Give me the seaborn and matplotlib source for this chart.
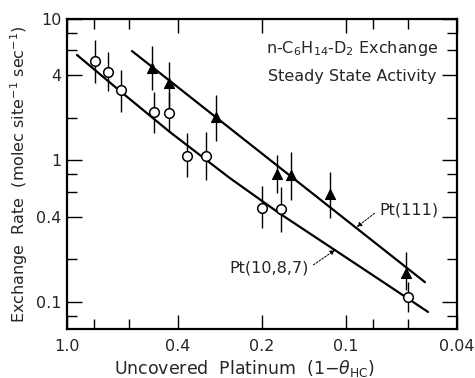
import matplotlib
matplotlib.use("Agg")
import matplotlib.pyplot as plt
import seaborn as sns
import numpy as np
import pandas as pd

# ---- data ----
# Pt(10,8,7) open circles
c_x = [0.794, 0.713, 0.640, 0.488, 0.431, 0.371, 0.318, 0.200, 0.171, 0.060]
c_y = [5.05, 4.22, 3.15, 2.20, 2.17, 1.08, 1.08, 0.461, 0.454, 0.108]
c_lo = [3.53, 3.10, 2.20, 1.56, 1.62, 0.764, 0.728, 0.333, 0.313, 0.085]
c_hi = [7.11, 5.84, 4.36, 3.05, 3.00, 1.56, 1.59, 0.661, 0.650, 0.138]

# Pt(111) filled triangles
t_x = [0.496, 0.431, 0.292, 0.177, 0.157, 0.114, 0.061]
t_y = [4.50, 3.53, 2.03, 0.80, 0.79, 0.58, 0.160]
t_lo = [3.15, 2.35, 1.37, 0.589, 0.526, 0.393, 0.122]
t_hi = [6.45, 4.97, 2.90, 1.09, 1.15, 0.83, 0.225]

# fitted lines
fit111_x = [0.585, 0.0521]
fit111_y = [5.94, 0.138]
fit1087_x = [0.921, 0.646, 0.428, 0.261, 0.172, 0.114, 0.0755, 0.0508]
fit1087_y = [5.57, 3.10, 1.59, 0.752, 0.419, 0.245, 0.143, 0.0850]

x_ticks = [1.0, 0.8, 0.6, 0.4, 0.2, 0.1, 0.08, 0.06, 0.04]
x_labeled = {1.0: "1.0", 0.4: "0.4", 0.2: "0.2", 0.1: "0.1", 0.04: "0.04"}
y_ticks = [10, 8, 6, 4, 2, 1, 0.8, 0.6, 0.4, 0.2, 0.1, 0.08]
y_labeled = {10: "10", 4: "4", 1: "1", 0.4: "0.4", 0.1: "0.1"}

# ---- style ----
sns.set_style("ticks")
plt.rcParams['font.family'] = ['DejaVu Sans']
plt.rcParams['mathtext.fontset'] = 'dejavusans'
FS = 11.5

fig = plt.figure(figsize=(4.75, 3.78), dpi=100)
ax = fig.add_axes([67/475, 49/378, 390/475, 310/378])
ax.set_xscale("log")
ax.set_yscale("log")

df111 = pd.DataFrame({"x": fit111_x, "y": fit111_y})
df1087 = pd.DataFrame({"x": fit1087_x, "y": fit1087_y})
sns.lineplot(data=df111, x="x", y="y", ax=ax, color="black", lw=1.6, sort=False, estimator=None)
sns.lineplot(data=df1087, x="x", y="y", ax=ax, color="black", lw=1.6, sort=False, estimator=None)

cy = np.array(c_y); ty = np.array(t_y)
ax.errorbar(c_x, c_y, yerr=[cy - np.array(c_lo), np.array(c_hi) - cy], fmt="none",
            ecolor="black", elinewidth=1.0, capsize=0, zorder=3)
ax.errorbar(t_x, t_y, yerr=[ty - np.array(t_lo), np.array(t_hi) - ty], fmt="none",
            ecolor="black", elinewidth=1.0, capsize=0, zorder=3)

dc = pd.DataFrame({"x": c_x, "y": c_y})
dt = pd.DataFrame({"x": t_x, "y": t_y})
sns.scatterplot(data=dc, x="x", y="y", ax=ax, marker="o", s=48, facecolor="white",
                edgecolor="black", linewidth=1.1, zorder=5)
sns.scatterplot(data=dt, x="x", y="y", ax=ax, marker="^", s=52, color="black",
                edgecolor="black", linewidth=0.8, zorder=5)

ax.set_xlim(1.0, 0.04)
ax.set_ylim(0.0644, 10)

ax.xaxis.set_minor_locator(matplotlib.ticker.NullLocator())
ax.yaxis.set_minor_locator(matplotlib.ticker.NullLocator())
ax.set_xticks(x_ticks)
ax.set_xticklabels([x_labeled.get(v, "") for v in x_ticks], fontsize=FS)
ax.set_yticks(y_ticks)
ax.set_yticklabels([y_labeled.get(v, "") for v in y_ticks], fontsize=FS)
ax.tick_params(axis="both", which="major", direction="in", length=7, width=1.0,
               top=True, right=True, color="black")
ax.tick_params(axis="x", pad=7)
ax.tick_params(axis="y", pad=4)
for t, v in zip(ax.xaxis.get_major_ticks(), x_ticks):
    if v in x_labeled:
        t.tick1line.set_markersize(10)
        t.tick2line.set_markersize(10)
for t, v in zip(ax.yaxis.get_major_ticks(), y_ticks):
    if v in y_labeled:
        t.tick1line.set_markersize(11)
        t.tick2line.set_markersize(11)

for s in ax.spines.values():
    s.set_linewidth(1.6)
    s.set_color("black")

ax.set_xlabel(r"Uncovered  Platinum  (1$-\theta_{\rm HC}$)", fontsize=12.5)
ax.xaxis.set_label_coords(0.456, -0.095)
ax.set_ylabel(r"Exchange  Rate  (molec site$^{-1}$ sec$^{-1}$)", fontsize=FS, labelpad=4)

ax.text(0.953, 0.905, r"n-C$_6$H$_{14}$-D$_2$ Exchange", transform=ax.transAxes,
        ha="right", va="center", fontsize=FS)
ax.text(0.948, 0.815, "Steady State Activity", transform=ax.transAxes,
        ha="right", va="center", fontsize=FS)

ax.annotate("Pt(111)", xy=(0.0914, 0.339), xytext=(0.0762, 0.447), textcoords="data",
            ha="left", va="center", fontsize=FS,
            arrowprops=dict(arrowstyle="-|>", ls=(0, (2, 1.5)), lw=0.7, color="black",
                            relpos=(0, 0.5), shrinkA=1, shrinkB=0, mutation_scale=7))
ax.annotate("Pt(10,8,7)", xy=(0.1095, 0.233), xytext=(0.1357, 0.174), textcoords="data",
            ha="right", va="center", fontsize=FS,
            arrowprops=dict(arrowstyle="-|>", ls=(0, (2, 1.5)), lw=0.7, color="black",
                            relpos=(1, 0.5), shrinkA=1, shrinkB=0, mutation_scale=7))

fig.savefig("out.png", dpi=100)
